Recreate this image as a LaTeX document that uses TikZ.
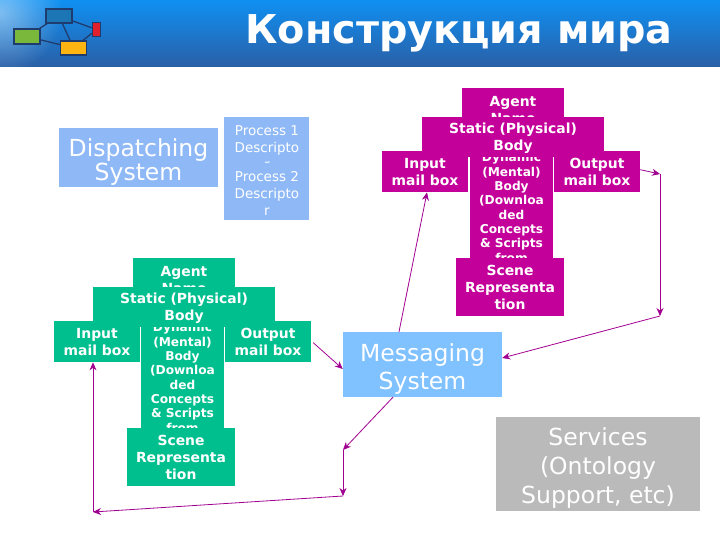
\documentclass[tikz,border=0pt]{standalone}
\usepackage{fontspec}
\setmainfont{DejaVu Sans}
\usepackage{xcolor}
\usetikzlibrary{arrows.meta, positioning, calc, fadings}
\definecolor{headtop}{HTML}{0F90F2}
\definecolor{headbot}{HTML}{2A5FA6}
\definecolor{agentmagenta}{HTML}{C4009A}
\definecolor{agentgreen}{HTML}{00BF8F}
\definecolor{linkpurple}{HTML}{A00090}
\definecolor{dispblue}{HTML}{8FB9F6}
\definecolor{msgblue}{HTML}{80C1FF}
\definecolor{srvgray}{HTML}{BABABA}
\definecolor{logoline}{HTML}{1E3C6E}
\definecolor{logoblue}{HTML}{1C75B5}
\definecolor{logogreen}{HTML}{7AB83C}
\definecolor{logoyellow}{HTML}{FFB511}
\definecolor{logored}{HTML}{E0202C}
\tikzfading[name=glowfade, inner color=transparent!55, outer color=transparent!100]
\newcommand{\dropbig}{\rule{0pt}{26pt}}
\newcommand{\dropsmall}{\rule{0pt}{13pt}}

\begin{document}
\begin{tikzpicture}[
  x=1pt, y=-1pt,
  bigbox/.style={inner sep=0pt, text=white, align=center, font=\fontsize{23.5}{24}\selectfont},
  smallbox/.style={fill=dispblue, inner sep=0pt, text=white, align=center,
               minimum width=85pt, font=\fontsize{13.5}{17}\selectfont},
  agentbox/.style={inner sep=0pt, text=white, align=center, font=\fontsize{13.9}{17}\selectfont\bfseries},
  namebox/.style={agentbox, minimum width=102pt, minimum height=43pt},
  bodybox/.style={agentbox, minimum width=182pt, minimum height=40pt},
  mailbox/.style={agentbox, minimum width=86pt, minimum height=41pt},
  mindbox/.style={agentbox, minimum width=83pt, font=\fontsize{12.2}{14.3}\selectfont\bfseries},
  scenebox/.style={agentbox, minimum width=108pt, minimum height=58pt},
  logobox/.style={draw=logoline, line width=1.3pt, inner sep=0pt},
  logolink/.style={draw=logoline, line width=1.3pt},
  arr/.style={-{Stealth[length=8pt,width=7pt]}, line width=0.8pt, draw=linkpurple}
]
\useasboundingbox (0,0) rectangle (720,540);

%% ---- Header ----
\begin{scope}
  \clip (0,0) rectangle (720,67);
  \node[top color=headtop, bottom color=headbot, minimum width=720pt, minimum height=67pt,
        inner sep=0pt, anchor=north west] (Header) at (0,0) {};
  \fill[white, path fading=glowfade] (0,12) circle (62);
\end{scope}
\node[text=white, font=\fontsize{39.7}{40}\selectfont\bfseries, anchor=base west] (Title) at (242,44) {Конструкция мира};

% logo
\node[logobox, fill=logoblue, minimum width=26pt, minimum height=14pt] (LogoBlue) at (59,16) {};
\node[logobox, fill=logogreen, minimum width=26pt, minimum height=15pt] (LogoGreen) at (27,36.5) {};
\node[logobox, fill=logoyellow, minimum width=26pt, minimum height=14pt] (LogoYellow) at (73.5,48) {};
\node[logobox, fill=logored, minimum width=8pt, minimum height=14pt] (LogoRed) at (96.5,29.5) {};
\draw[logolink] (LogoGreen) -- (LogoBlue);
\draw[logolink] (LogoBlue) -- (LogoRed);
\draw[logolink] (LogoRed) -- (LogoYellow);
\draw[logolink] (LogoYellow) -- (LogoGreen);
\draw[logolink] (LogoBlue) -- (LogoYellow);

%% ---- Dispatching ----
\node[bigbox, fill=dispblue, minimum width=159pt, minimum height=59pt] (Dispatch) at (138.5,157.5) {\dropbig Dispatching\\System};
\node[smallbox, minimum height=58pt, below right=-11pt and 6pt of Dispatch.north east] (ProcOne) {\dropsmall Process 1\\Descripto\\r};
\node[smallbox, minimum height=57pt, below=46pt of ProcOne.north] (ProcTwo) {\dropsmall Process 2\\Descripto\\r};

%% ---- Upper agent ----
\begin{scope}[every node/.append style={fill=agentmagenta}]
  \node[namebox, anchor=north] (NameA) at (513,88) {Agent\\Name};
  \node[mindbox, below=64.5pt of NameA.north, xshift=-1.5pt] (MindA) {Dynamic\\(Mental)\\Body\\(Downloa\\ded\\Concepts\\\& Scripts\\from};
  \node[bodybox, below=29pt of NameA.north] (BodyA) {\dropsmall Static (Physical)\\Body};
  \node[mailbox, below right=34pt and -40pt of BodyA.north west] (InA) {Input\\mail box};
  \node[mailbox, below left=34pt and -36pt of BodyA.north east] (OutA) {Output\\mail box};
  \node[scenebox, below=170pt of NameA.north, xshift=-3pt] (SceneA) {Scene\\Representa\\tion};
\end{scope}

%% ---- Lower agent ----
\begin{scope}[every node/.append style={fill=agentgreen}]
  \node[namebox, anchor=north] (NameB) at (184,258) {Agent\\Name};
  \node[mindbox, below=64.5pt of NameB.north, xshift=-1.5pt] (MindB) {Dynamic\\(Mental)\\Body\\(Downloa\\ded\\Concepts\\\& Scripts\\from};
  \node[bodybox, below=29pt of NameB.north] (BodyB) {\dropsmall Static (Physical)\\Body};
  \node[mailbox, below right=34pt and -39pt of BodyB.north west] (InB) {Input\\mail box};
  \node[mailbox, below left=34pt and -36pt of BodyB.north east] (OutB) {Output\\mail box};
  \node[scenebox, below=170pt of NameB.north, xshift=-3pt] (SceneB) {Scene\\Representa\\tion};
\end{scope}

%% ---- Messaging and services ----
\node[bigbox, fill=msgblue, minimum width=159pt, minimum height=65pt,
      font=\fontsize{23.5}{28}\selectfont] (Msg) at (422.5,364.5) {\dropbig Messaging\\System};
\node[bigbox, fill=srvgray, minimum width=204pt, minimum height=94pt,
      font=\fontsize{23.5}{29}\selectfont] (Srv) at (598,464) {\dropbig Services\\(Ontology\\Support, etc)};

%% ---- Links ----
\coordinate (TurnOne) at (660,174);
\coordinate (TurnTwo) at (660,316);
\coordinate (TurnThree) at (343,450);
\coordinate (TurnFour) at (343,496);
\coordinate (TurnFive) at (93,512);

\draw[arr] ([xshift=-23.5pt]Msg.north) -- ([xshift=2pt]InA.south);
\draw[arr] ([yshift=2pt]OutA.east) -- (TurnOne);
\draw[arr] (TurnOne) -- (TurnTwo);
\draw[arr] (TurnTwo) -- ([yshift=6.5pt]Msg.east);
\draw[arr] ([xshift=2pt,yshift=-1pt]OutB.east) -- ([yshift=-4.5pt]Msg.west);
\draw[arr] ([xshift=-29.5pt]Msg.south) -- (TurnThree);
\draw[arr] (TurnThree) -- (TurnFour);
\draw[arr] (TurnFour) -- (TurnFive);
\draw[arr] (TurnFive) -- (TurnFive |- InB.south);

\end{tikzpicture}
\end{document}
